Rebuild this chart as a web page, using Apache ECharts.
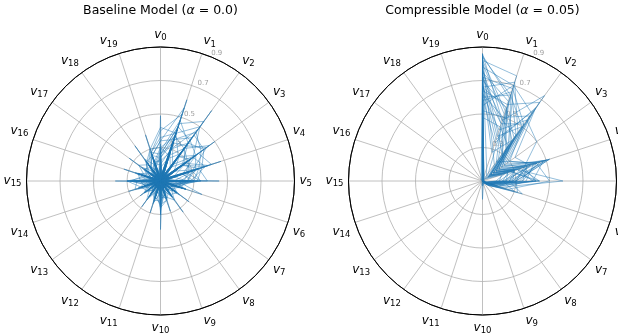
<!DOCTYPE html>
<html>
<head>
<meta charset="utf-8">
<script src="https://cdn.jsdelivr.net/npm/echarts@6/dist/echarts.min.js"></script>
<style>html,body{margin:0;padding:0;background:#fff;}#c{width:618px;height:333px;}</style>
</head>
<body>
<div id="c"></div>
<script>
// Axis categories v0..v19
var categories = ['0','1','2','3','4','5','6','7','8','9','10','11','12','13','14','15','16','17','18','19'];
var radialTicks = [0.1, 0.3, 0.5, 0.7, 0.9];
var titles = ['Baseline Model (', 'Compressible Model ('];
var alphas = ['0.0', '0.05'];

// Baseline model samples (values per axis v0..v19)
var baseline = [
[0.49,0.12,0.30,0.11,0.28,0.12,0.22,0.10,0.20,0.11,0.26,0.12,0.18,0.10,0.22,0.12,0.24,0.11,0.20,0.13],
[0.12,0.61,0.11,0.32,0.12,0.26,0.10,0.20,0.12,0.18,0.11,0.22,0.10,0.19,0.11,0.28,0.10,0.22,0.12,0.25],
[0.28,0.11,0.62,0.12,0.34,0.10,0.24,0.11,0.22,0.10,0.30,0.11,0.20,0.12,0.18,0.10,0.22,0.11,0.24,0.10],
[0.11,0.30,0.12,0.50,0.10,0.30,0.12,0.21,0.10,0.20,0.12,0.24,0.11,0.18,0.10,0.26,0.12,0.20,0.10,0.22],
[0.24,0.10,0.32,0.12,0.48,0.11,0.26,0.10,0.19,0.12,0.22,0.10,0.21,0.11,0.20,0.12,0.25,0.10,0.18,0.12],
[0.10,0.26,0.11,0.28,0.12,0.45,0.10,0.22,0.11,0.18,0.10,0.20,0.12,0.22,0.10,0.30,0.11,0.20,0.12,0.24],
[0.26,0.44,0.12,0.24,0.11,0.20,0.36,0.10,0.18,0.12,0.24,0.11,0.19,0.10,0.24,0.11,0.20,0.12,0.22,0.10],
[0.12,0.36,0.42,0.10,0.26,0.11,0.12,0.31,0.10,0.21,0.12,0.18,0.11,0.20,0.12,0.25,0.10,0.19,0.11,0.28],
[0.30,0.11,0.28,0.36,0.12,0.24,0.10,0.12,0.33,0.11,0.22,0.10,0.18,0.12,0.22,0.10,0.18,0.12,0.20,0.11],
[0.11,0.34,0.10,0.26,0.38,0.12,0.22,0.11,0.10,0.29,0.12,0.19,0.10,0.17,0.11,0.27,0.12,0.21,0.10,0.23],
[0.25,0.12,0.36,0.11,0.24,0.28,0.10,0.20,0.12,0.11,0.39,0.10,0.20,0.11,0.18,0.12,0.23,0.10,0.25,0.12],
[0.12,0.38,0.11,0.32,0.10,0.26,0.22,0.10,0.19,0.12,0.10,0.30,0.12,0.18,0.11,0.24,0.10,0.21,0.12,0.26],
[0.28,0.10,0.40,0.12,0.30,0.11,0.12,0.22,0.11,0.20,0.12,0.10,0.29,0.10,0.21,0.12,0.20,0.11,0.22,0.10],
[0.11,0.42,0.12,0.34,0.11,0.24,0.10,0.12,0.21,0.10,0.24,0.12,0.10,0.25,0.12,0.22,0.11,0.18,0.10,0.27],
[0.26,0.12,0.36,0.10,0.34,0.12,0.22,0.10,0.12,0.20,0.11,0.22,0.12,0.11,0.30,0.10,0.20,0.12,0.23,0.11],
[0.10,0.34,0.12,0.30,0.11,0.32,0.10,0.20,0.11,0.10,0.23,0.12,0.19,0.10,0.12,0.37,0.11,0.20,0.10,0.24],
[0.27,0.11,0.30,0.12,0.26,0.10,0.24,0.12,0.20,0.11,0.12,0.21,0.10,0.20,0.11,0.12,0.33,0.10,0.22,0.12],
[0.12,0.42,0.10,0.28,0.12,0.26,0.11,0.21,0.10,0.19,0.11,0.10,0.22,0.12,0.21,0.11,0.12,0.33,0.11,0.24],
[0.32,0.10,0.38,0.11,0.24,0.12,0.20,0.10,0.22,0.12,0.24,0.11,0.10,0.19,0.12,0.23,0.11,0.12,0.36,0.10],
[0.11,0.34,0.12,0.30,0.10,0.28,0.12,0.19,0.11,0.20,0.10,0.22,0.12,0.11,0.20,0.10,0.24,0.11,0.12,0.39],
[0.40,0.52,0.11,0.26,0.12,0.22,0.10,0.20,0.12,0.18,0.26,0.10,0.20,0.12,0.10,0.24,0.12,0.20,0.11,0.28],
[0.12,0.46,0.54,0.12,0.30,0.10,0.24,0.11,0.20,0.10,0.22,0.12,0.19,0.10,0.22,0.11,0.21,0.10,0.23,0.12],
[0.24,0.11,0.44,0.42,0.12,0.28,0.10,0.22,0.11,0.20,0.10,0.21,0.11,0.20,0.12,0.26,0.10,0.22,0.12,0.20],
[0.11,0.36,0.12,0.38,0.42,0.11,0.26,0.12,0.20,0.11,0.24,0.10,0.22,0.11,0.21,0.12,0.22,0.10,0.20,0.12],
[0.34,0.56,0.10,0.26,0.12,0.24,0.11,0.22,0.10,0.19,0.12,0.20,0.10,0.18,0.11,0.30,0.10,0.21,0.12,0.26],
[0.12,0.30,0.48,0.11,0.34,0.38,0.10,0.20,0.12,0.21,0.10,0.19,0.12,0.20,0.10,0.22,0.12,0.20,0.10,0.24],
[0.29,0.12,0.34,0.46,0.11,0.26,0.12,0.19,0.10,0.22,0.24,0.11,0.20,0.10,0.22,0.11,0.20,0.12,0.21,0.10],
[0.42,0.40,0.12,0.28,0.40,0.10,0.22,0.11,0.20,0.12,0.30,0.10,0.21,0.12,0.18,0.28,0.11,0.20,0.24,0.30],
[0.30,0.38,0.34,0.30,0.28,0.24,0.14,0.12,0.16,0.12,0.18,0.12,0.14,0.11,0.15,0.20,0.13,0.15,0.18,0.22],
[0.26,0.44,0.40,0.36,0.32,0.26,0.18,0.13,0.12,0.14,0.16,0.13,0.12,0.14,0.12,0.18,0.15,0.12,0.16,0.20],
[0.34,0.36,0.46,0.40,0.34,0.30,0.16,0.14,0.13,0.12,0.20,0.11,0.13,0.12,0.14,0.22,0.12,0.14,0.20,0.26],
[0.28,0.48,0.38,0.42,0.36,0.32,0.20,0.12,0.15,0.13,0.15,0.14,0.11,0.13,0.13,0.19,0.14,0.13,0.15,0.21],
[0.36,0.40,0.50,0.34,0.38,0.28,0.22,0.15,0.12,0.14,0.22,0.12,0.14,0.11,0.16,0.24,0.13,0.16,0.19,0.28],
[0.24,0.34,0.36,0.44,0.30,0.34,0.18,0.14,0.16,0.12,0.17,0.13,0.12,0.15,0.12,0.20,0.15,0.12,0.17,0.19],
[0.22,0.28,0.20,0.30,0.18,0.26,0.16,0.24,0.15,0.22,0.17,0.24,0.14,0.22,0.16,0.26,0.15,0.24,0.17,0.22],
[0.18,0.24,0.30,0.20,0.32,0.18,0.26,0.14,0.22,0.16,0.28,0.15,0.22,0.14,0.24,0.17,0.26,0.15,0.22,0.16],
[0.26,0.34,0.22,0.36,0.24,0.30,0.18,0.22,0.20,0.16,0.24,0.20,0.17,0.20,0.22,0.30,0.18,0.22,0.20,0.28],
[0.20,0.30,0.38,0.26,0.34,0.22,0.22,0.18,0.24,0.20,0.20,0.16,0.24,0.18,0.20,0.22,0.24,0.18,0.26,0.20],
[0.30,0.26,0.34,0.28,0.30,0.26,0.20,0.16,0.18,0.22,0.26,0.18,0.16,0.22,0.18,0.28,0.20,0.26,0.22,0.30],
[0.24,0.40,0.28,0.32,0.26,0.34,0.16,0.20,0.16,0.18,0.22,0.22,0.18,0.16,0.26,0.24,0.16,0.20,0.24,0.26]
];

// Compressible model samples (values per axis v0..v19)
var compressible = [
[0.86,0.18,0.14,0.12,0.22,0.20,0.12,0.10,0.10,0.10,0.11,0.10,0.10,0.10,0.10,0.10,0.10,0.10,0.10,0.10],
[0.82,0.76,0.16,0.13,0.26,0.22,0.13,0.11,0.10,0.10,0.10,0.10,0.10,0.10,0.10,0.10,0.10,0.11,0.10,0.10],
[0.72,0.48,0.73,0.14,0.30,0.24,0.12,0.10,0.11,0.10,0.10,0.10,0.10,0.10,0.10,0.10,0.10,0.10,0.10,0.10],
[0.66,0.56,0.42,0.20,0.52,0.30,0.14,0.11,0.10,0.10,0.12,0.10,0.10,0.10,0.10,0.10,0.10,0.10,0.10,0.11],
[0.78,0.40,0.30,0.16,0.28,0.44,0.18,0.12,0.10,0.10,0.10,0.10,0.10,0.10,0.10,0.10,0.10,0.10,0.10,0.10],
[0.60,0.64,0.50,0.18,0.34,0.26,0.35,0.14,0.11,0.10,0.11,0.10,0.10,0.10,0.10,0.10,0.10,0.10,0.10,0.10],
[0.84,0.30,0.22,0.14,0.40,0.28,0.15,0.12,0.10,0.11,0.10,0.10,0.10,0.10,0.10,0.10,0.10,0.10,0.10,0.10],
[0.55,0.70,0.36,0.22,0.30,0.20,0.13,0.11,0.10,0.10,0.13,0.10,0.10,0.10,0.10,0.10,0.10,0.10,0.11,0.10],
[0.68,0.36,0.62,0.28,0.46,0.32,0.16,0.12,0.11,0.10,0.10,0.10,0.10,0.10,0.10,0.10,0.10,0.10,0.10,0.10],
[0.75,0.60,0.26,0.15,0.24,0.18,0.12,0.10,0.10,0.10,0.10,0.10,0.10,0.10,0.10,0.10,0.10,0.10,0.10,0.10],
[0.62,0.42,0.55,0.50,0.36,0.30,0.17,0.13,0.11,0.10,0.12,0.10,0.10,0.10,0.10,0.10,0.10,0.10,0.10,0.11],
[0.80,0.52,0.34,0.18,0.48,0.40,0.20,0.12,0.10,0.10,0.10,0.10,0.10,0.10,0.10,0.10,0.10,0.10,0.10,0.10],
[0.58,0.66,0.44,0.16,0.32,0.58,0.22,0.14,0.12,0.10,0.11,0.10,0.10,0.10,0.10,0.10,0.10,0.10,0.10,0.10],
[0.70,0.28,0.40,0.24,0.50,0.26,0.14,0.11,0.10,0.10,0.10,0.10,0.10,0.10,0.10,0.10,0.10,0.10,0.10,0.10],
[0.64,0.58,0.68,0.20,0.28,0.42,0.16,0.12,0.10,0.10,0.10,0.10,0.10,0.10,0.10,0.10,0.10,0.10,0.10,0.10],
[0.76,0.46,0.24,0.30,0.44,0.22,0.30,0.13,0.11,0.10,0.12,0.11,0.10,0.10,0.10,0.10,0.10,0.10,0.10,0.10],
[0.52,0.50,0.58,0.26,0.38,0.34,0.18,0.12,0.10,0.10,0.10,0.10,0.10,0.10,0.10,0.10,0.10,0.10,0.10,0.10],
[0.85,0.62,0.30,0.15,0.26,0.24,0.13,0.10,0.10,0.10,0.10,0.10,0.10,0.10,0.10,0.10,0.10,0.10,0.10,0.10],
[0.66,0.72,0.46,0.22,0.42,0.36,0.24,0.15,0.11,0.10,0.21,0.11,0.10,0.10,0.10,0.10,0.10,0.10,0.10,0.10],
[0.74,0.38,0.50,0.18,0.34,0.44,0.15,0.12,0.10,0.10,0.10,0.10,0.10,0.10,0.10,0.10,0.10,0.10,0.10,0.10],
[0.48,0.44,0.36,0.20,0.30,0.28,0.14,0.12,0.11,0.10,0.11,0.10,0.10,0.10,0.10,0.10,0.10,0.10,0.10,0.10],
[0.82,0.54,0.40,0.16,0.52,0.30,0.32,0.14,0.10,0.10,0.10,0.10,0.10,0.10,0.10,0.10,0.10,0.10,0.10,0.10],
[0.60,0.34,0.64,0.34,0.40,0.24,0.16,0.11,0.10,0.10,0.10,0.10,0.10,0.10,0.10,0.10,0.10,0.10,0.10,0.10],
[0.72,0.68,0.52,0.24,0.36,0.42,0.20,0.13,0.11,0.10,0.11,0.10,0.10,0.10,0.10,0.10,0.10,0.10,0.10,0.10],
[0.84,0.64,0.38,0.16,0.30,0.26,0.14,0.11,0.10,0.10,0.10,0.10,0.10,0.10,0.10,0.10,0.10,0.10,0.10,0.10],
[0.70,0.56,0.34,0.20,0.44,0.34,0.18,0.12,0.10,0.10,0.11,0.10,0.10,0.10,0.10,0.10,0.10,0.10,0.10,0.10],
[0.86,0.48,0.44,0.22,0.32,0.40,0.16,0.12,0.10,0.10,0.10,0.10,0.10,0.10,0.10,0.10,0.10,0.10,0.10,0.10],
[0.62,0.50,0.30,0.26,0.50,0.28,0.20,0.13,0.11,0.10,0.11,0.10,0.10,0.10,0.10,0.10,0.10,0.10,0.10,0.10],
[0.78,0.70,0.60,0.18,0.38,0.30,0.15,0.11,0.10,0.10,0.10,0.10,0.10,0.10,0.10,0.10,0.10,0.10,0.10,0.10],
[0.66,0.46,0.52,0.30,0.44,0.50,0.26,0.14,0.11,0.10,0.12,0.10,0.10,0.10,0.10,0.10,0.10,0.10,0.10,0.10]
];

var chart = echarts.init(document.getElementById('c'), null, {renderer: 'canvas'});
var N = categories.length;
var centers = [[160.5, 181], [482.5, 181]];
var R = 134;
var FONT = 'DejaVu Sans';

var polar = [], angleAxis = [], radiusAxis = [], series = [], title = [];
centers.forEach(function (c, k) {
  polar.push({center: c, radius: R});
  angleAxis.push({
    polarIndex: 2 * k, type: 'value', min: 0, max: N, interval: 1,
    startAngle: 90, clockwise: true,
    axisLine: {show: true, lineStyle: {color: '#000', width: 1}},
    axisTick: {show: false},
    splitLine: {show: true, lineStyle: {color: '#b0b0b0', width: 0.8}},
    axisLabel: {
      margin: 5,
      formatter: function (v) { if (v >= N) return ''; return '{v|v}{s|' + categories[v] + '}'; },
      rich: {
        v: {fontFamily: FONT, fontStyle: 'italic', fontSize: 12, color: '#000'},
        s: {fontFamily: FONT, fontSize: 8.5, color: '#000', padding: [6, 0, 0, 0]}
      }
    }
  });
  radiusAxis.push({
    polarIndex: 2 * k, type: 'value', min: radialTicks[0], max: radialTicks[radialTicks.length - 1], interval: 0.2,
    axisLine: {show: false}, axisTick: {show: false}, axisLabel: {show: false},
    splitLine: {show: true, lineStyle: {color: ['#b0b0b0', '#b0b0b0', '#b0b0b0', '#b0b0b0', '#000'], width: 0.8}}
  });
  polar.push({center: c, radius: R});
  angleAxis.push({polarIndex: 2 * k + 1, type: 'value', min: 0, max: N, startAngle: 66, clockwise: true, show: false});
  radiusAxis.push({
    polarIndex: 2 * k + 1, type: 'value', min: radialTicks[0], max: radialTicks[radialTicks.length - 1], interval: 0.2,
    axisLine: {show: false}, axisTick: {show: false}, splitLine: {show: false},
    axisLabel: {show: true, color: '#a0a0a0', fontSize: 7, fontFamily: FONT, margin: -8,
      verticalAlign: 'bottom', lineHeight: 18,
      formatter: function (v) { return v <= radialTicks[0] + 1e-9 ? '' : v.toFixed(1); }}
  });
  title.push({
    text: '{n|' + titles[k] + '}{a|α}{n| = ' + alphas[k] + ')}',
    left: c[0], top: 4, textAlign: 'center', padding: 0,
    textStyle: {fontWeight: 'normal', rich: {
      n: {fontFamily: FONT, fontSize: 12.5, fontWeight: 'normal', color: '#000'},
      a: {fontFamily: FONT, fontStyle: 'italic', fontWeight: 'normal', fontSize: 12.5, color: '#000'}
    }}
  });
  var set = k === 0 ? baseline : compressible;
  set.forEach(function (row) {
    var d = row.map(function (v, i) { return [v, i]; });
    d.push([row[0], N]);
    series.push({
      type: 'line', coordinateSystem: 'polar', polarIndex: 2 * k,
      data: d, symbol: 'none', silent: true, animation: false,
      lineStyle: {color: '#1f77b4', width: 1, opacity: 0.48}
    });
  });
});

chart.setOption({
  animation: false,
  title: title, polar: polar, angleAxis: angleAxis, radiusAxis: radiusAxis, series: series
});
</script>
</body>
</html>
